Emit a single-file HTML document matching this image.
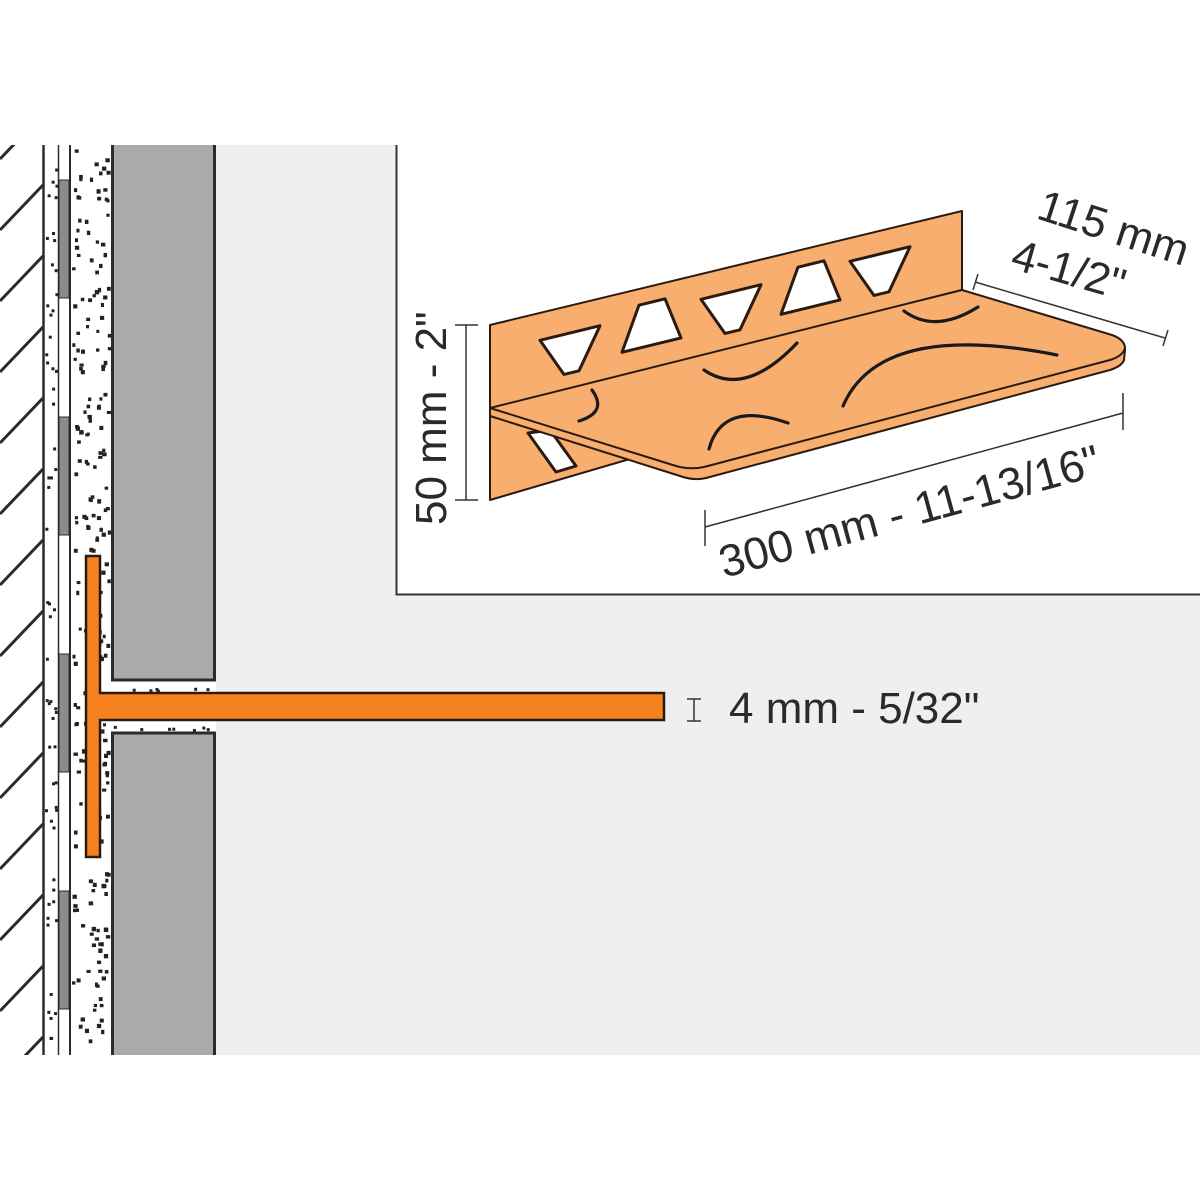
<!DOCTYPE html>
<html><head><meta charset="utf-8"><style>
html,body{margin:0;padding:0;background:#fff;}
svg{display:block}
text{font-family:"Liberation Sans",Arial,sans-serif;fill:#2a2a2a;}
</style></head><body>
<svg id="s" width="1200" height="1200" viewBox="0 0 1200 1200" xmlns="http://www.w3.org/2000/svg">
<defs><clipPath id="hc"><rect x="0" y="145" width="44" height="910"/></clipPath></defs>
<rect x="0" y="0" width="1200" height="1200" fill="#fff"/>
<rect x="216" y="145" width="984" height="910" fill="#eeefee"/>
<rect x="396" y="145" width="804" height="450" fill="#fff"/>
<path d="M396.5 145 V594.5 H1200" fill="none" stroke="#333" stroke-width="2"/>

<g stroke="#2b2b2b" stroke-width="3" id="hatch" clip-path="url(#hc)"></g>
<line x1="43.5" y1="145" x2="43.5" y2="1055" stroke="#2b2b2b" stroke-width="2.5"/>
<g id="strips" fill="#8c8c8c" stroke="#2b2b2b" stroke-width="1"></g>
<line x1="58.5" y1="145" x2="58.5" y2="1055" stroke="#2b2b2b" stroke-width="1.5"/>
<line x1="70" y1="145" x2="70" y2="1055" stroke="#2b2b2b" stroke-width="2"/>
<g id="dots" fill="#222"></g>

<rect x="112.5" y="130" width="102" height="550" fill="#a9aaac" stroke="#2b2b2b" stroke-width="3"/>
<rect x="112.5" y="733" width="102" height="330" fill="#a9aaac" stroke="#2b2b2b" stroke-width="3"/>
<rect x="0" y="1055" width="1200" height="145" fill="#fff"/>
<rect x="0" y="0" width="396" height="145" fill="#fff"/>

<path d="M86 556 H100 V693 H664 V720 H100 V857 H86 Z" fill="#f5821f" stroke="#2b1a10" stroke-width="2.5"/>

<g stroke="#333" stroke-width="1.5">
<line x1="694" y1="699" x2="694" y2="721"/><line x1="687" y1="699" x2="701" y2="699"/><line x1="687" y1="721" x2="701" y2="721"/>
</g>
<text x="729" y="723" font-size="44">4 mm - 5/32"</text>

<g stroke="#2a1a10" stroke-width="2" stroke-linejoin="round">
<path d="M490 325 L962 211 V290 L490 410 Z" fill="#f8ae6f"/>
<path d="M490 410 L640 372 L640 456 L490 500 Z" fill="#f8ae6f"/>
<g id="holes" fill="#fff" stroke-width="3"></g>
<path d="M490 408 L962 290 L1112 335 Q1126 340 1125 350 L1124 360 Q1122 366 1110 370 L706 478 Q694 481 680 476 L490 416 Z" fill="#f8ae6f"/>
<path d="M490 408 L676 466 Q690 470 704 467 L1110 360 Q1123 356 1125 348" fill="none"/>
</g>
<g fill="none" stroke="#1a1a1a" stroke-width="3.2" stroke-linecap="round">
<path d="M704 370 Q745 398 797 343"/>
<path d="M904 311 Q935 334 978 307"/>
<path d="M843 406 Q880 320 1057 355"/>
<path d="M592 390 Q608 412 579 421"/>
<path d="M709 449 Q722 400 788 423"/>
</g>

<g stroke="#333" stroke-width="1.5" fill="none">
<line x1="466" y1="325" x2="466" y2="500"/><line x1="455" y1="325" x2="478" y2="325"/><line x1="455" y1="500" x2="478" y2="500"/>
<line x1="705" y1="527" x2="1123" y2="413"/><line x1="705" y1="510" x2="705" y2="546"/><line x1="1123" y1="393" x2="1123" y2="430"/>
<line x1="975" y1="282" x2="1165" y2="338"/><line x1="978" y1="274" x2="973" y2="290"/><line x1="1168" y1="330" x2="1163" y2="346"/>
</g>
<text font-size="44" transform="translate(446,525) rotate(-90)">50 mm - 2"</text>
<text font-size="45" transform="translate(724,578) rotate(-15.3)">300 mm - 11-13/16"</text>
<text font-size="44" transform="translate(1035,218) rotate(18)">115 mm</text>
<text font-size="44" transform="translate(1009,268) rotate(16)">4-1/2"</text>
</svg>
<script>
(function(){
var NS="http://www.w3.org/2000/svg";
function el(p,t,a){var e=document.createElementNS(NS,t);for(var k in a)e.setAttribute(k,a[k]);p.appendChild(e);return e;}
var h=document.getElementById('hatch');
for(var y=185-71*2;y<1200;y+=71){el(h,'line',{x1:0,y1:y+45,x2:43,y2:y});}
var s=document.getElementById('strips');
for(var y=180;y<1055;y+=237){el(s,'rect',{x:59,y:y,width:10,height:Math.min(118,1055-y)});}
var seed=7;function r(){seed=(seed*16807)%2147483647;return seed/2147483647;}
var d=document.getElementById('dots');
for(var i=0;i<230;i++){var x=72+r()*36,y=148+r()*905;el(d,'rect',{x:x,y:y,width:3+r()*1.5,height:3+r()*1.5});}
for(var i=0;i<60;i++){var x=45+r()*11,y=150+r()*900;el(d,'rect',{x:x,y:y,width:3,height:3});}
for(var i=0;i<14;i++){var x=103+r()*110,y=(r()<.5?683+r()*7:723+r()*7);el(d,'rect',{x:x,y:y,width:3,height:3});}
var H=document.getElementById('holes');
var cs=[[570,349,0],[652,327,1],[731,308,0],[811,289,1],[880,270,0]];
var sl=-0.2426;
cs.forEach(function(c){var cx=c[0],cy=c[1],t=c[2],p;
 function P(dx,dy){return (cx+dx)+','+(cy+dy+dx*sl);}
 if(!t){p=[P(-30,-16),P(30,-16),P(9,24),P(-6,24)];}
 else{p=[P(-13,-25),P(13,-25),P(29,18),P(-30,18)];}
 el(H,'polygon',{points:p.join(' ')});
});
el(H,'polygon',{points:'528,433 550,430 576,466 556,472'});
})();
</script>
</body></html>
